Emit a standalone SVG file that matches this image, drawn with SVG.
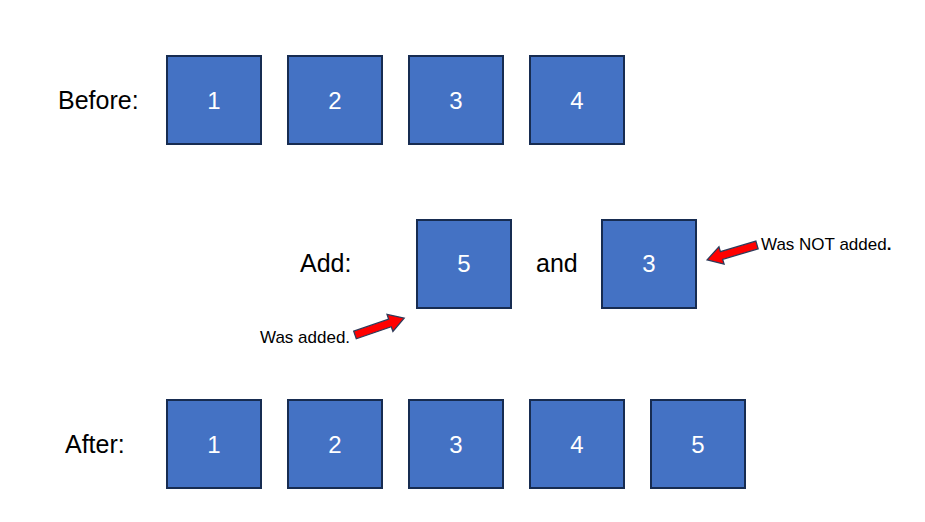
<svg xmlns="http://www.w3.org/2000/svg" width="925" height="522" viewBox="0 0 925 522">
<style>
.box{fill:#4472C4;stroke:#172C51;stroke-width:2}
.num{font-family:"Liberation Sans",Arial,sans-serif;font-size:24px;fill:#FFFFFF;text-anchor:middle}
.lbl{font-family:"Liberation Sans",Arial,sans-serif;font-size:25px;fill:#000000}
.small{font-family:"Liberation Sans",Arial,sans-serif;font-size:17px;fill:#000000}
.arrow{fill:#FF0000;stroke:#2F3B5A;stroke-width:1.3;stroke-linejoin:miter}
</style>
<defs>
<polygon id="arr" points="0,-4 37,-4 37,-9 52,0 37,9 37,4 0,4"/>
</defs>
<rect width="925" height="522" fill="#FFFFFF"/>
<text class="lbl" x="58" y="109">Before:</text>
<text class="lbl" x="300" y="272">Add:</text>
<text class="lbl" x="536" y="272">and</text>
<text class="lbl" x="65" y="453">After:</text>
<g id="before-1"><rect class="box" x="167" y="56" width="94" height="88"/><text class="num" x="214" y="109">1</text></g>
<g id="before-2"><rect class="box" x="288" y="56" width="94" height="88"/><text class="num" x="335" y="109">2</text></g>
<g id="before-3"><rect class="box" x="409" y="56" width="94" height="88"/><text class="num" x="456" y="109">3</text></g>
<g id="before-4"><rect class="box" x="530" y="56" width="94" height="88"/><text class="num" x="577" y="109">4</text></g>
<g id="add-5"><rect class="box" x="417" y="220" width="94" height="88"/><text class="num" x="464" y="272">5</text></g>
<g id="add-3"><rect class="box" x="602" y="220" width="94" height="88"/><text class="num" x="649" y="272">3</text></g>
<g id="after-1"><rect class="box" x="167" y="400" width="94" height="88"/><text class="num" x="214" y="453">1</text></g>
<g id="after-2"><rect class="box" x="288" y="400" width="94" height="88"/><text class="num" x="335" y="453">2</text></g>
<g id="after-3"><rect class="box" x="409" y="400" width="94" height="88"/><text class="num" x="456" y="453">3</text></g>
<g id="after-4"><rect class="box" x="530" y="400" width="94" height="88"/><text class="num" x="577" y="453">4</text></g>
<g id="after-5"><rect class="box" x="651" y="400" width="94" height="88"/><text class="num" x="698" y="453">5</text></g>
<g id="callouts">
<use href="#arr" class="arrow" transform="translate(355,335) rotate(-19)"/>
<use href="#arr" class="arrow" transform="translate(757,245) rotate(163.5)"/>
<text class="small" x="260" y="343">Was added.</text>
<text class="small" x="761" y="250">Was NOT added<tspan font-weight="bold">.</tspan></text>
</g>
</svg>
